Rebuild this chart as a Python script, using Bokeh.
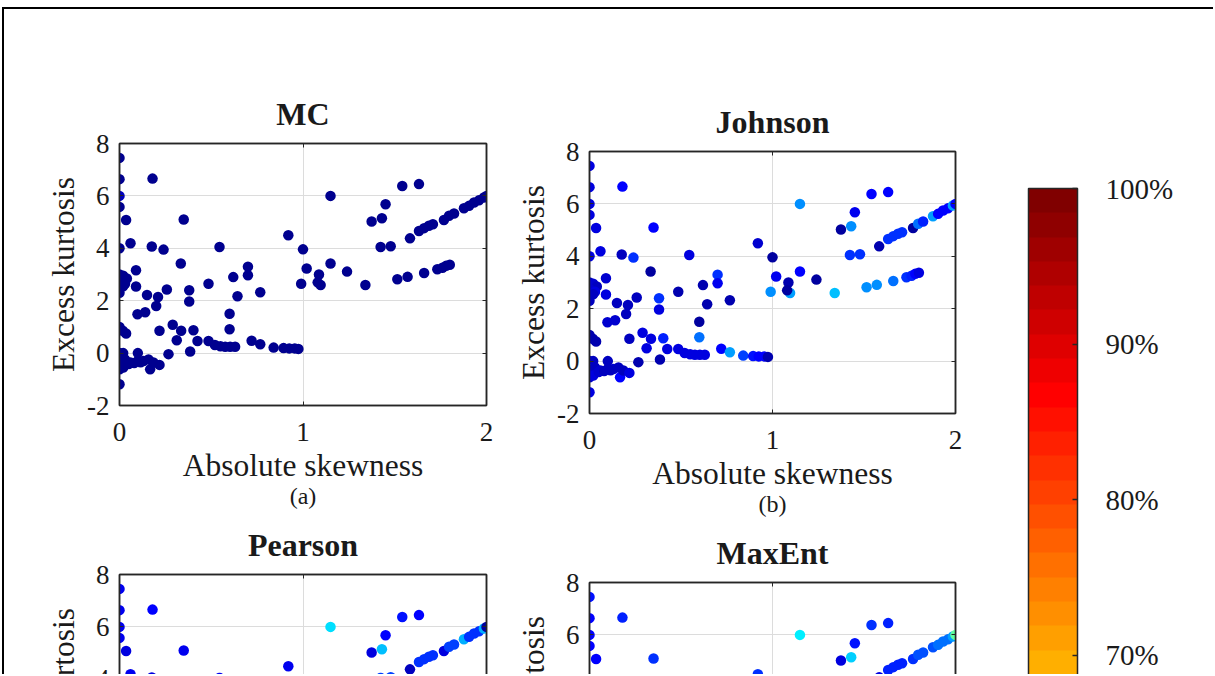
import numpy as np
from bokeh.plotting import figure
from bokeh.layouts import row, column
from bokeh.models import (ColumnDataSource, Range1d, FixedTicker, LinearAxis, Title,
                          LinearColorMapper, ColorBar, PrintfTickFormatter)
from bokeh.transform import transform
from bokeh.embed import file_html
from bokeh.resources import INLINE

# ---- data: absolute skewness / excess kurtosis test cases ----
skewness = [
    0.00, 0.00, 0.00, 0.00, 0.036, 0.18, 0.35, 0.92, 0.00, 0.06,
    0.176, 0.24, 0.545, 1.00, 0.334, 0.09, 0.00, 0.02, 0.04, 0.00,
    0.03, 0.00, 0.02, 0.00, 0.09, 0.485, 0.62, 0.70, 0.70, 0.767,
    0.643, 0.38, 0.38, 0.15, 0.21, 0.258, 0.20, 0.098, 0.14, 0.60,
    0.60, 0.29, 0.336, 0.218, 0.403, 0.312, 0.385, 0.267, 0.00, 0.018,
    0.036, 0.425, 0.485, 0.52, 0.55, 0.576, 0.603, 0.63, 0.72, 0.767,
    0.84, 0.894, 0.925, 0.955, 0.975, 0.00, 0.02, 0.00, 0.03, 0.06,
    0.00, 0.02, 0.10, 0.10, 0.13, 0.158, 0.167, 0.185, 0.218, 0.00,
    0.05, 0.08, 0.115,
    1.15, 1.541, 1.632, 1.45, 1.374, 1.43, 1.423, 1.478, 1.583, 1.632,
    1.66, 1.686, 1.708, 1.768, 1.796, 1.823, 1.877, 1.905, 1.932, 1.959,
    1.986, 2.00, 1.02, 1.15, 1.087, 0.99, 1.096, 1.08, 1.24, 1.34,
    1.514, 1.57, 1.66, 1.732, 1.76, 1.78, 1.80,
]
kurtosis = [
    7.45, 6.64, 6.00, 5.58, 5.08, 6.66, 5.10, 4.50, 4.00, 4.19,
    4.07, 3.95, 4.05, 3.96, 3.42, 3.16, 3.00, 2.95, 2.85, 2.75,
    2.65, 2.50, 2.55, 2.30, 2.54, 2.65, 2.90, 3.30, 2.97, 2.32,
    2.17, 2.40, 1.97, 2.22, 2.14, 2.43, 1.80, 1.48, 1.56, 1.50,
    0.91, 1.08, 0.85, 0.85, 0.87, 0.49, 0.06, -0.04, 1.00, 0.85,
    0.75, 0.46, 0.46, 0.31, 0.26, 0.24, 0.24, 0.24, 0.47, 0.34,
    0.21, 0.19, 0.18, 0.18, 0.16, 0.00, 0.00, -0.30, -0.24, -0.36,
    -0.62, -0.55, 0.00, -0.30, -0.30, -0.24, -0.62, -0.36, -0.45, -1.19,
    -0.42, -0.38, -0.35,
    6.00, 6.38, 6.45, 5.68, 5.02, 5.15, 4.05, 4.08, 4.38, 4.66,
    4.77, 4.86, 4.92, 5.08, 5.24, 5.33, 5.53, 5.62, 5.75, 5.83,
    5.94, 6.00, 3.23, 3.42, 3.00, 2.65, 2.60, 2.70, 3.11, 2.60,
    2.82, 2.91, 3.06, 3.20, 3.26, 3.33, 3.37,
]

# relative error (%) of each method, one value per test case
mc_pct = [
    1, 1, 6, 1, 1, 1, 1, 1, 1, 1,
    1, 1, 1, 1, 1, 1, 1, 1, 1, 1,
    1, 1, 1, 1, 1, 1, 1, 1, 1, 1,
    1, 1, 1, 1, 1, 1, 1, 1, 1, 1,
    1, 1, 1, 1, 1, 1, 1, 1, 1, 1,
    1, 1, 1, 1, 1, 1, 1, 1, 1, 1,
    1, 1, 1, 1, 1, 1, 1, 1, 1, 1,
    1, 1, 1, 1, 1, 1, 1, 1, 1, 1,
    1, 1, 1,
    1, 1, 1, 1, 1, 1, 1, 1, 1, 1,
    1, 1, 1, 1, 1, 1, 1, 1, 1, 1,
    1, 1, 1, 1, 1, 1, 1, 1, 1, 1,
    1, 1, 1, 1, 1, 1, 1,
]
johnson_pct = [
    9, 9, 9, 8, 9, 12, 12, 7, 8, 8,
    5, 16, 8, 3, 3, 7, 6, 7, 6, 7,
    8, 6, 5, 6, 8, 4, 4, 17, 10, 4,
    4, 17, 8, 5, 5, 6, 5, 7, 7, 3,
    22, 8, 8, 6, 15, 9, 4, 4, 4, 4,
    4, 8, 8, 8, 8, 8, 8, 8, 12, 28,
    18, 14, 12, 12, 4, 5, 6, 8, 6, 7,
    6, 8, 5, 6, 7, 5, 12, 6, 8, 8,
    7, 6, 6,
    25, 12, 12, 10, 3, 25, 17, 17, 4, 17,
    17, 17, 17, 3, 22, 15, 28, 12, 12, 12,
    28, 12, 10, 12, 4, 25, 27, 3, 3, 30,
    25, 25, 23, 17, 15, 12, 8,
]
pearson_pct = [
    10, 10, 10, 10, 8, 12, 10, 10, 10, 10,
    9, 14, 10, 8, 6, 8, 7, 8, 7, 8,
    9, 7, 6, 7, 9, 6, 6, 18, 11, 6,
    6, 18, 9, 7, 7, 8, 7, 8, 8, 5,
    24, 9, 9, 7, 16, 10, 6, 6, 6, 6,
    6, 9, 9, 9, 9, 9, 9, 9, 14, 29,
    20, 16, 14, 14, 6, 7, 8, 9, 8, 9,
    8, 9, 7, 8, 9, 7, 14, 8, 9, 9,
    9, 8, 8,
    33, 14, 12, 11, 9, 30, 18, 18, 5, 17,
    17, 17, 17, 8, 18, 18, 29, 16, 16, 17,
    29, 3, 11, 13, 6, 27, 28, 5, 5, 31,
    27, 27, 25, 18, 17, 14, 10,
]
maxent_pct = [
    13, 12, 12, 12, 12, 15, 16, 17, 12, 12,
    11, 17, 12, 10, 8, 10, 9, 10, 9, 10,
    11, 9, 8, 9, 11, 8, 8, 19, 13, 8,
    8, 19, 11, 9, 9, 10, 9, 10, 10, 7,
    26, 11, 11, 9, 18, 12, 8, 8, 8, 8,
    8, 11, 11, 11, 11, 11, 11, 11, 16, 31,
    22, 18, 16, 16, 8, 9, 10, 11, 10, 11,
    10, 11, 9, 10, 11, 9, 16, 10, 11, 11,
    11, 10, 10,
    35, 17, 15, 13, 9, 32, 19, 19, 9, 15,
    15, 15, 15, 17, 19, 19, 20, 22, 22, 23,
    27, 46, 13, 15, 8, 29, 30, 7, 7, 33,
    29, 29, 27, 20, 19, 16, 12,
]

titles = ["MC", "Johnson", "Pearson", "MaxEnt"]
tags = ["(a)", "(b)", "(c)", "(d)"]
x_ticks = [0, 1, 2]
y_ticks = [-2, 0, 2, 4, 6, 8]
cbar_ticks = [70, 80, 90, 100]


def jet(m=64):
    """MATLAB-style jet colormap as hex strings."""
    n = int(np.ceil(m / 4))
    u = np.concatenate([np.arange(1, n + 1) / n, np.ones(n - 1), np.arange(n, 0, -1) / n])
    g = int(np.ceil(n / 2)) - int(m % 4 == 1) + np.arange(1, len(u) + 1)
    r = g + n
    b = g - n
    J = np.zeros((m, 3))
    J[r[r <= m] - 1, 0] = u[r <= m]
    J[g[g <= m] - 1, 1] = u[g <= m]
    J[b[b >= 1] - 1, 2] = u[b >= 1]
    return ["#%02x%02x%02x" % tuple(int(round(c * 255)) for c in rgb) for rgb in J]


JET = jet(64)
mapper = LinearColorMapper(palette=JET, low=0, high=100)

FONT = "Liberation Serif"
INK = "#1a1a1a"
AXIS = "#262626"


def mirror_axis(ticks):
    # tick marks only, for the top and right edges of the box
    return LinearAxis(ticker=FixedTicker(ticks=ticks), major_label_text_font_size="1px",
                      major_label_text_color=None, major_label_standoff=0,
                      major_tick_in=4, major_tick_out=0, minor_tick_line_color=None,
                      axis_line_color=AXIS, axis_line_width=1.5, major_tick_line_color=AXIS)


def panel(title, tag, pct, width, height, left, right, top, bottom):
    p = figure(width=width, height=height, x_range=Range1d(0, 2), y_range=Range1d(-2, 8),
               output_backend="svg", toolbar_location=None,
               min_border_left=left, min_border_right=right,
               min_border_top=top, min_border_bottom=bottom,
               background_fill_color="white", border_fill_color="white")
    p.title.text = title
    p.title.text_font = FONT
    p.title.text_font_size = "32px"
    p.title.text_font_style = "bold"
    p.title.text_color = INK
    p.title.align = "center"
    p.title.standoff = 24

    p.xaxis.ticker = FixedTicker(ticks=x_ticks)
    p.yaxis.ticker = FixedTicker(ticks=y_ticks)
    p.xaxis.formatter = PrintfTickFormatter(format="%d")
    p.yaxis.formatter = PrintfTickFormatter(format="%d")
    p.xaxis.axis_label = "Absolute skewness"
    p.yaxis.axis_label = "Excess kurtosis"
    for ax in (p.xaxis[0], p.yaxis[0]):
        ax.major_label_text_font = FONT
        ax.major_label_text_font_size = "27px"
        ax.major_label_text_color = INK
        ax.axis_label_text_font = FONT
        ax.axis_label_text_font_size = "31.5px"
        ax.axis_label_text_font_style = "normal"
        ax.axis_label_text_color = INK
        ax.major_tick_in = 4
        ax.major_tick_out = 0
        ax.minor_tick_line_color = None
        ax.axis_line_color = AXIS
        ax.axis_line_width = 1.5
        ax.major_tick_line_color = AXIS
    p.xaxis.major_label_standoff = 17
    p.xaxis.axis_label_standoff = 4
    p.yaxis.major_label_standoff = 10
    p.yaxis.axis_label_standoff = 3

    p.add_layout(mirror_axis(x_ticks), "above")
    p.add_layout(mirror_axis(y_ticks), "right")

    p.add_layout(Title(text=tag, align="center", text_font=FONT, text_font_size="24px",
                       text_font_style="normal", text_color=INK, standoff=-9), "below")

    p.xgrid.grid_line_color = "#dcdcdc"
    p.ygrid.grid_line_color = "#dcdcdc"
    p.outline_line_color = AXIS
    p.outline_line_width = 1.5

    src = ColumnDataSource(dict(x=skewness, y=kurtosis, v=pct))
    p.scatter("x", "y", source=src, size=10.5, fill_color=transform("v", mapper), line_color=None)
    return p


pA = panel(titles[0], tags[0], mc_pct, 496, 503, 115, 14, 134, 107)
pC = panel(titles[2], tags[2], pearson_pct, 496, 434, 115, 14, 62, 110)
pB = panel(titles[1], tags[1], johnson_pct, 490, 511, 89, 35, 142, 107)
pD = panel(titles[3], tags[3], maxent_pct, 490, 434, 89, 35, 62, 110)

# colour scale
cbfig = figure(width=225, height=667, output_backend="svg", toolbar_location=None,
               x_axis_type=None, y_axis_type=None, min_border_left=38, min_border_right=138,
               min_border_top=179, min_border_bottom=0, outline_line_color=None,
               background_fill_color="white", border_fill_color="white")
cbfig.xgrid.visible = False
cbfig.ygrid.visible = False
cb = ColorBar(color_mapper=mapper, orientation="vertical", width=49, height=1555,
              location="top_left", margin=0, padding=0,
              ticker=FixedTicker(ticks=cbar_ticks), formatter=PrintfTickFormatter(format="%d%%"),
              major_label_text_font=FONT, major_label_text_font_size="29px",
              major_label_text_color=INK, label_standoff=28,
              major_tick_in=5, major_tick_out=0, major_tick_line_color=AXIS, major_tick_line_width=1.5,
              minor_tick_line_color=None, bar_line_color=AXIS, bar_line_width=1.5,
              background_fill_color=None, border_line_color=None)
cbfig.add_layout(cb, "center")

p = row(column(pA, pC), column(pB, pD), cbfig, margin=(7, 0, 0, 2), width=1211, height=667,
        styles={"border-top": "2px solid #000", "border-left": "2px solid #000", "overflow": "hidden"})

open("out.html", "w").write(file_html(p, INLINE))
